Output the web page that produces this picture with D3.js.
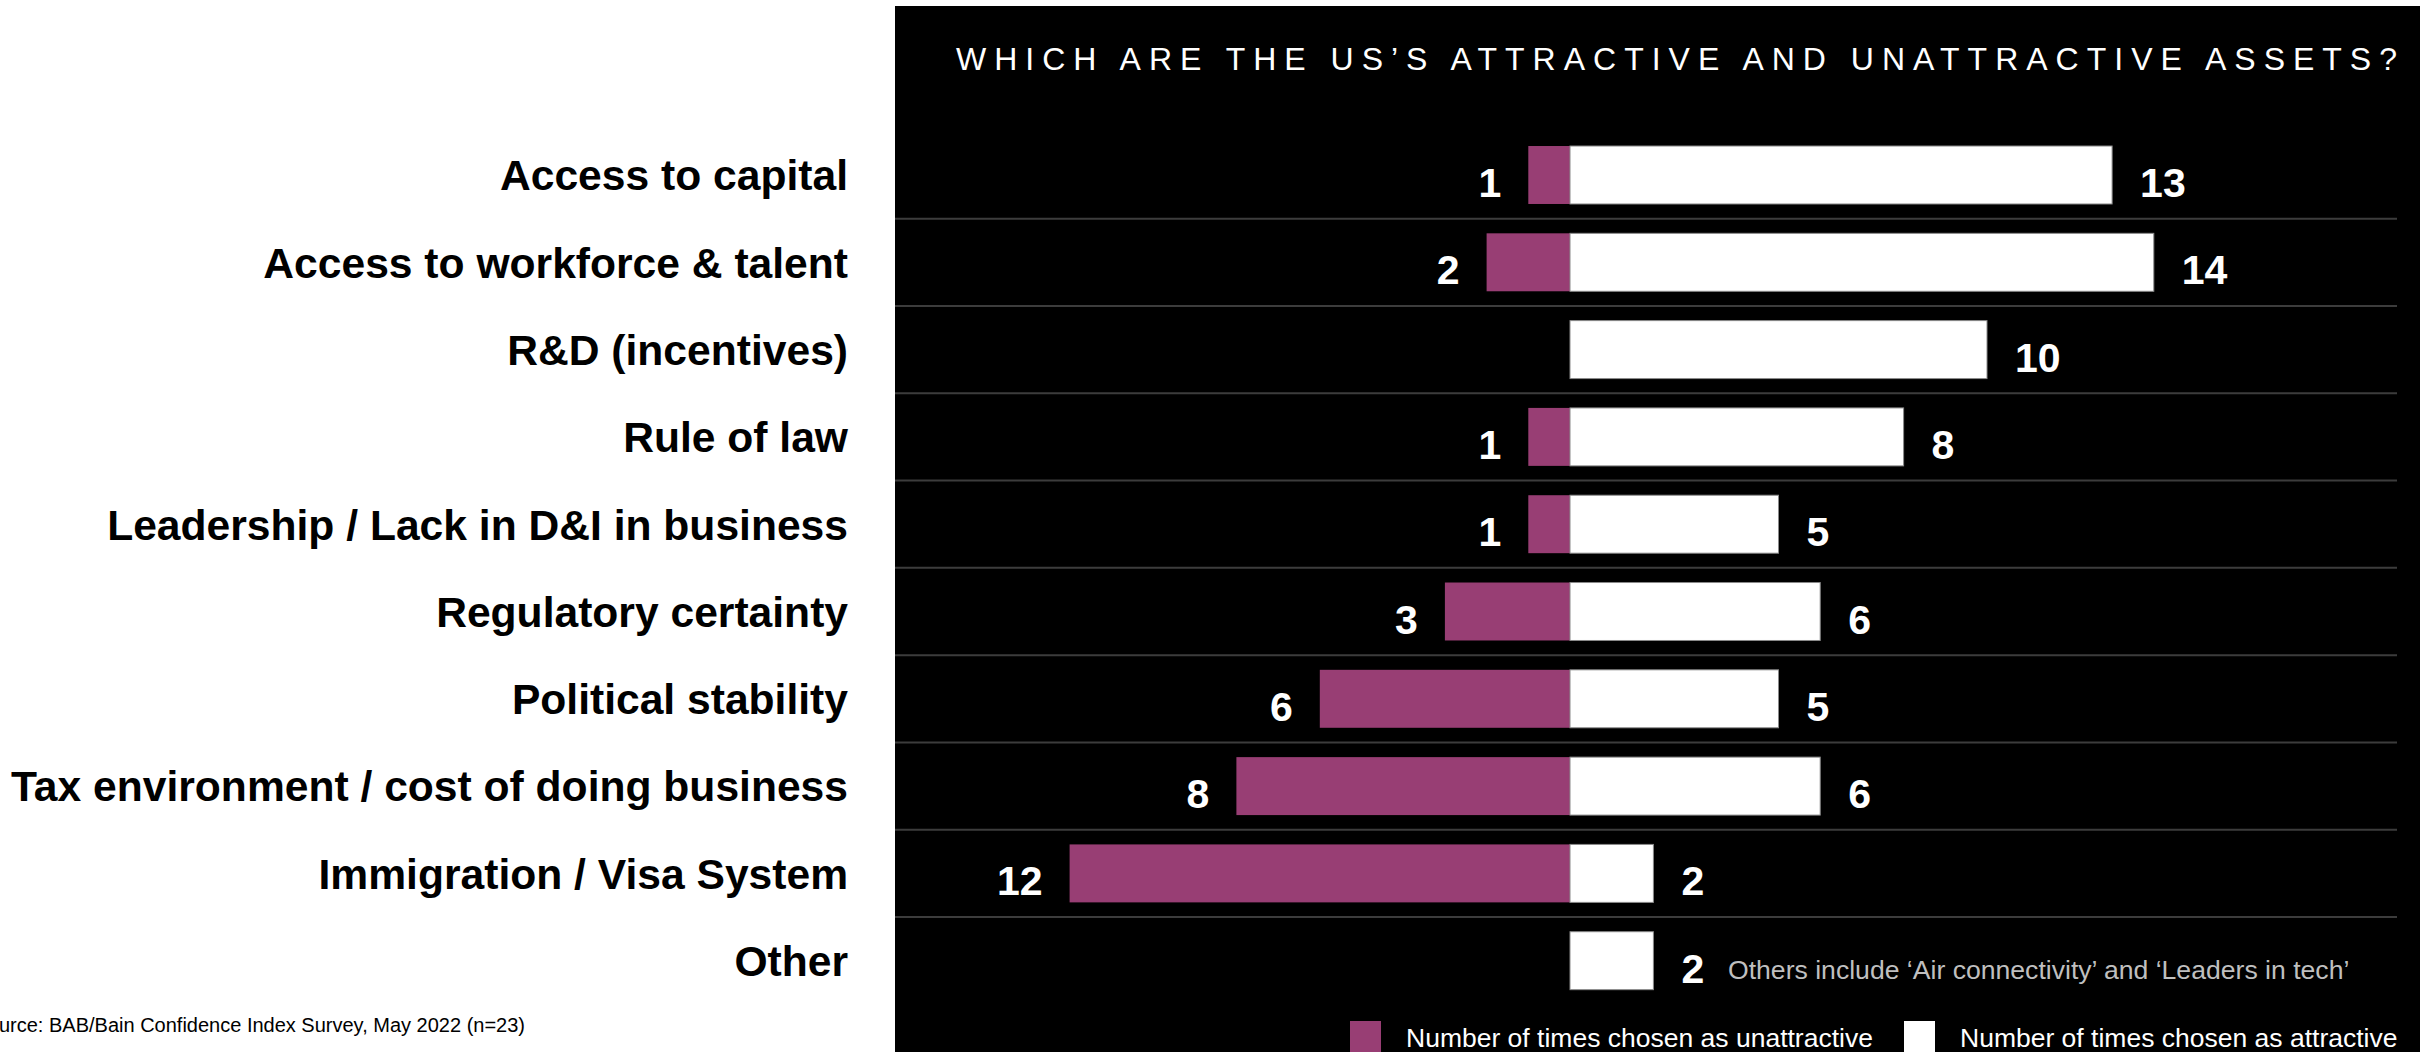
<!DOCTYPE html>
<html>
<head>
<meta charset="utf-8">
<script src="https://cdn.jsdelivr.net/npm/d3@7"></script>
<style>
  html, body { margin: 0; padding: 0; background: #ffffff; }
  svg { display: block; }
  text { font-family: "Liberation Sans", Arial, sans-serif; }
</style>
</head>
<body>
<svg id="chart" width="2420" height="1052"></svg>
<script>
// Survey answers: how often each asset was chosen as unattractive / attractive
const categories = [
  "Access to capital",
  "Access to workforce & talent",
  "R&D (incentives)",
  "Rule of law",
  "Leadership / Lack in D&I in business",
  "Regulatory certainty",
  "Political stability",
  "Tax environment / cost of doing business",
  "Immigration / Visa System",
  "Other"
];
const unattractive = [1, 2, 0, 1, 1, 3, 6, 8, 12, 0];
const attractive   = [13, 14, 10, 8, 5, 6, 5, 6, 2, 2];

const titleText = "WHICH ARE THE US\u2019S ATTRACTIVE AND UNATTRACTIVE ASSETS?";
const legendLabels = ["Number of times chosen as unattractive", "Number of times chosen as attractive"];
const otherNote = "Others include \u2018Air connectivity\u2019 and \u2018Leaders in tech\u2019";
const sourceText = "Source: BAB/Bain Confidence Index Survey, May 2022 (n=23)";

const PURPLE = "#983e74";
const rows = categories.map((c, i) => ({ cat: c, neg: unattractive[i], pos: attractive[i] }));

const svg = d3.select("#chart");

// dark panel holding the chart
svg.append("rect")
  .attr("x", 895).attr("y", 6)
  .attr("width", 2420 - 895).attr("height", 1052 - 6)
  .attr("fill", "#000000");

// scales: diverging bar around zero
const x = d3.scaleLinear().domain([-12, 14]).range([1570 - 12 * 41.7, 1570 + 14 * 41.7]);
const y = d3.scaleBand().domain(categories).range([131.35, 1004.35])
  .paddingInner(0.336).paddingOuter(0.168);

// separators between rows
const step = y.step();
svg.append("g").selectAll("line")
  .data(categories.slice(1))
  .join("line")
  .attr("x1", 895).attr("x2", 2397)
  .attr("y1", d => y(d) - step * y.paddingInner() / 2)
  .attr("y2", d => y(d) - step * y.paddingInner() / 2)
  .attr("stroke", "#3c3c3c").attr("stroke-width", 2);

// title
svg.append("text")
  .attr("x", 956).attr("y", 70)
  .attr("textLength", 1441).attr("lengthAdjust", "spacing")
  .attr("font-size", 32).attr("fill", "#ffffff")
  .text(titleText);

// category labels (left, on white)
svg.append("g").selectAll("text")
  .data(rows)
  .join("text")
  .attr("x", 848)
  .attr("y", d => y(d.cat) + y.bandwidth() / 2)
  .attr("dy", "0.36em")
  .attr("text-anchor", "end")
  .attr("font-size", 42.6).attr("font-weight", "bold").attr("fill", "#000000")
  .text(d => d.cat);

// unattractive bars
svg.append("g").selectAll("rect")
  .data(rows.filter(d => d.neg > 0))
  .join("rect")
  .attr("x", d => x(-d.neg))
  .attr("width", d => x(0) - x(-d.neg))
  .attr("y", d => y(d.cat))
  .attr("height", y.bandwidth())
  .attr("fill", PURPLE);

// attractive bars
svg.append("g").selectAll("rect")
  .data(rows.filter(d => d.pos > 0))
  .join("rect")
  .attr("x", x(0))
  .attr("width", d => x(d.pos) - x(0))
  .attr("y", d => y(d.cat))
  .attr("height", y.bandwidth())
  .attr("fill", "#ffffff")
  .attr("stroke", "#8a8a8a").attr("stroke-width", 1);

// value labels
const labelDy = 22;
svg.append("g").selectAll("text")
  .data(rows.filter(d => d.neg > 0))
  .join("text")
  .attr("x", d => x(-d.neg) - 27)
  .attr("y", d => y(d.cat) + y.bandwidth() / 2 + labelDy)
  .attr("text-anchor", "end")
  .attr("font-size", 41).attr("font-weight", "bold").attr("fill", "#ffffff")
  .text(d => d.neg);

svg.append("g").selectAll("text")
  .data(rows.filter(d => d.pos > 0))
  .join("text")
  .attr("x", d => x(d.pos) + 28)
  .attr("y", d => y(d.cat) + y.bandwidth() / 2 + labelDy)
  .attr("font-size", 41).attr("font-weight", "bold").attr("fill", "#ffffff")
  .text(d => d.pos);

// note next to the "Other" row
const lastRow = rows[rows.length - 1];
svg.append("text")
  .attr("x", 1728)
  .attr("y", y(lastRow.cat) + y.bandwidth() / 2 + 18)
  .attr("font-size", 26.6).attr("fill", "#bfbfbf")
  .text(otherNote);

// legend
const legend = [
  { label: legendLabels[0], color: PURPLE, x: 1350 },
  { label: legendLabels[1], color: "#ffffff", x: 1904 }
];
const lg = svg.append("g").selectAll("g").data(legend).join("g");
lg.append("rect")
  .attr("x", d => d.x).attr("y", 1021)
  .attr("width", 31).attr("height", 40)
  .attr("fill", d => d.color);
lg.append("text")
  .attr("x", d => d.x + 56).attr("y", 1047)
  .attr("font-size", 26.5).attr("fill", "#ffffff")
  .text(d => d.label);

// source line
svg.append("text")
  .attr("x", 525).attr("y", 1032)
  .attr("text-anchor", "end")
  .attr("font-size", 20).attr("fill", "#000000")
  .text(sourceText);
</script>
</body>
</html>
